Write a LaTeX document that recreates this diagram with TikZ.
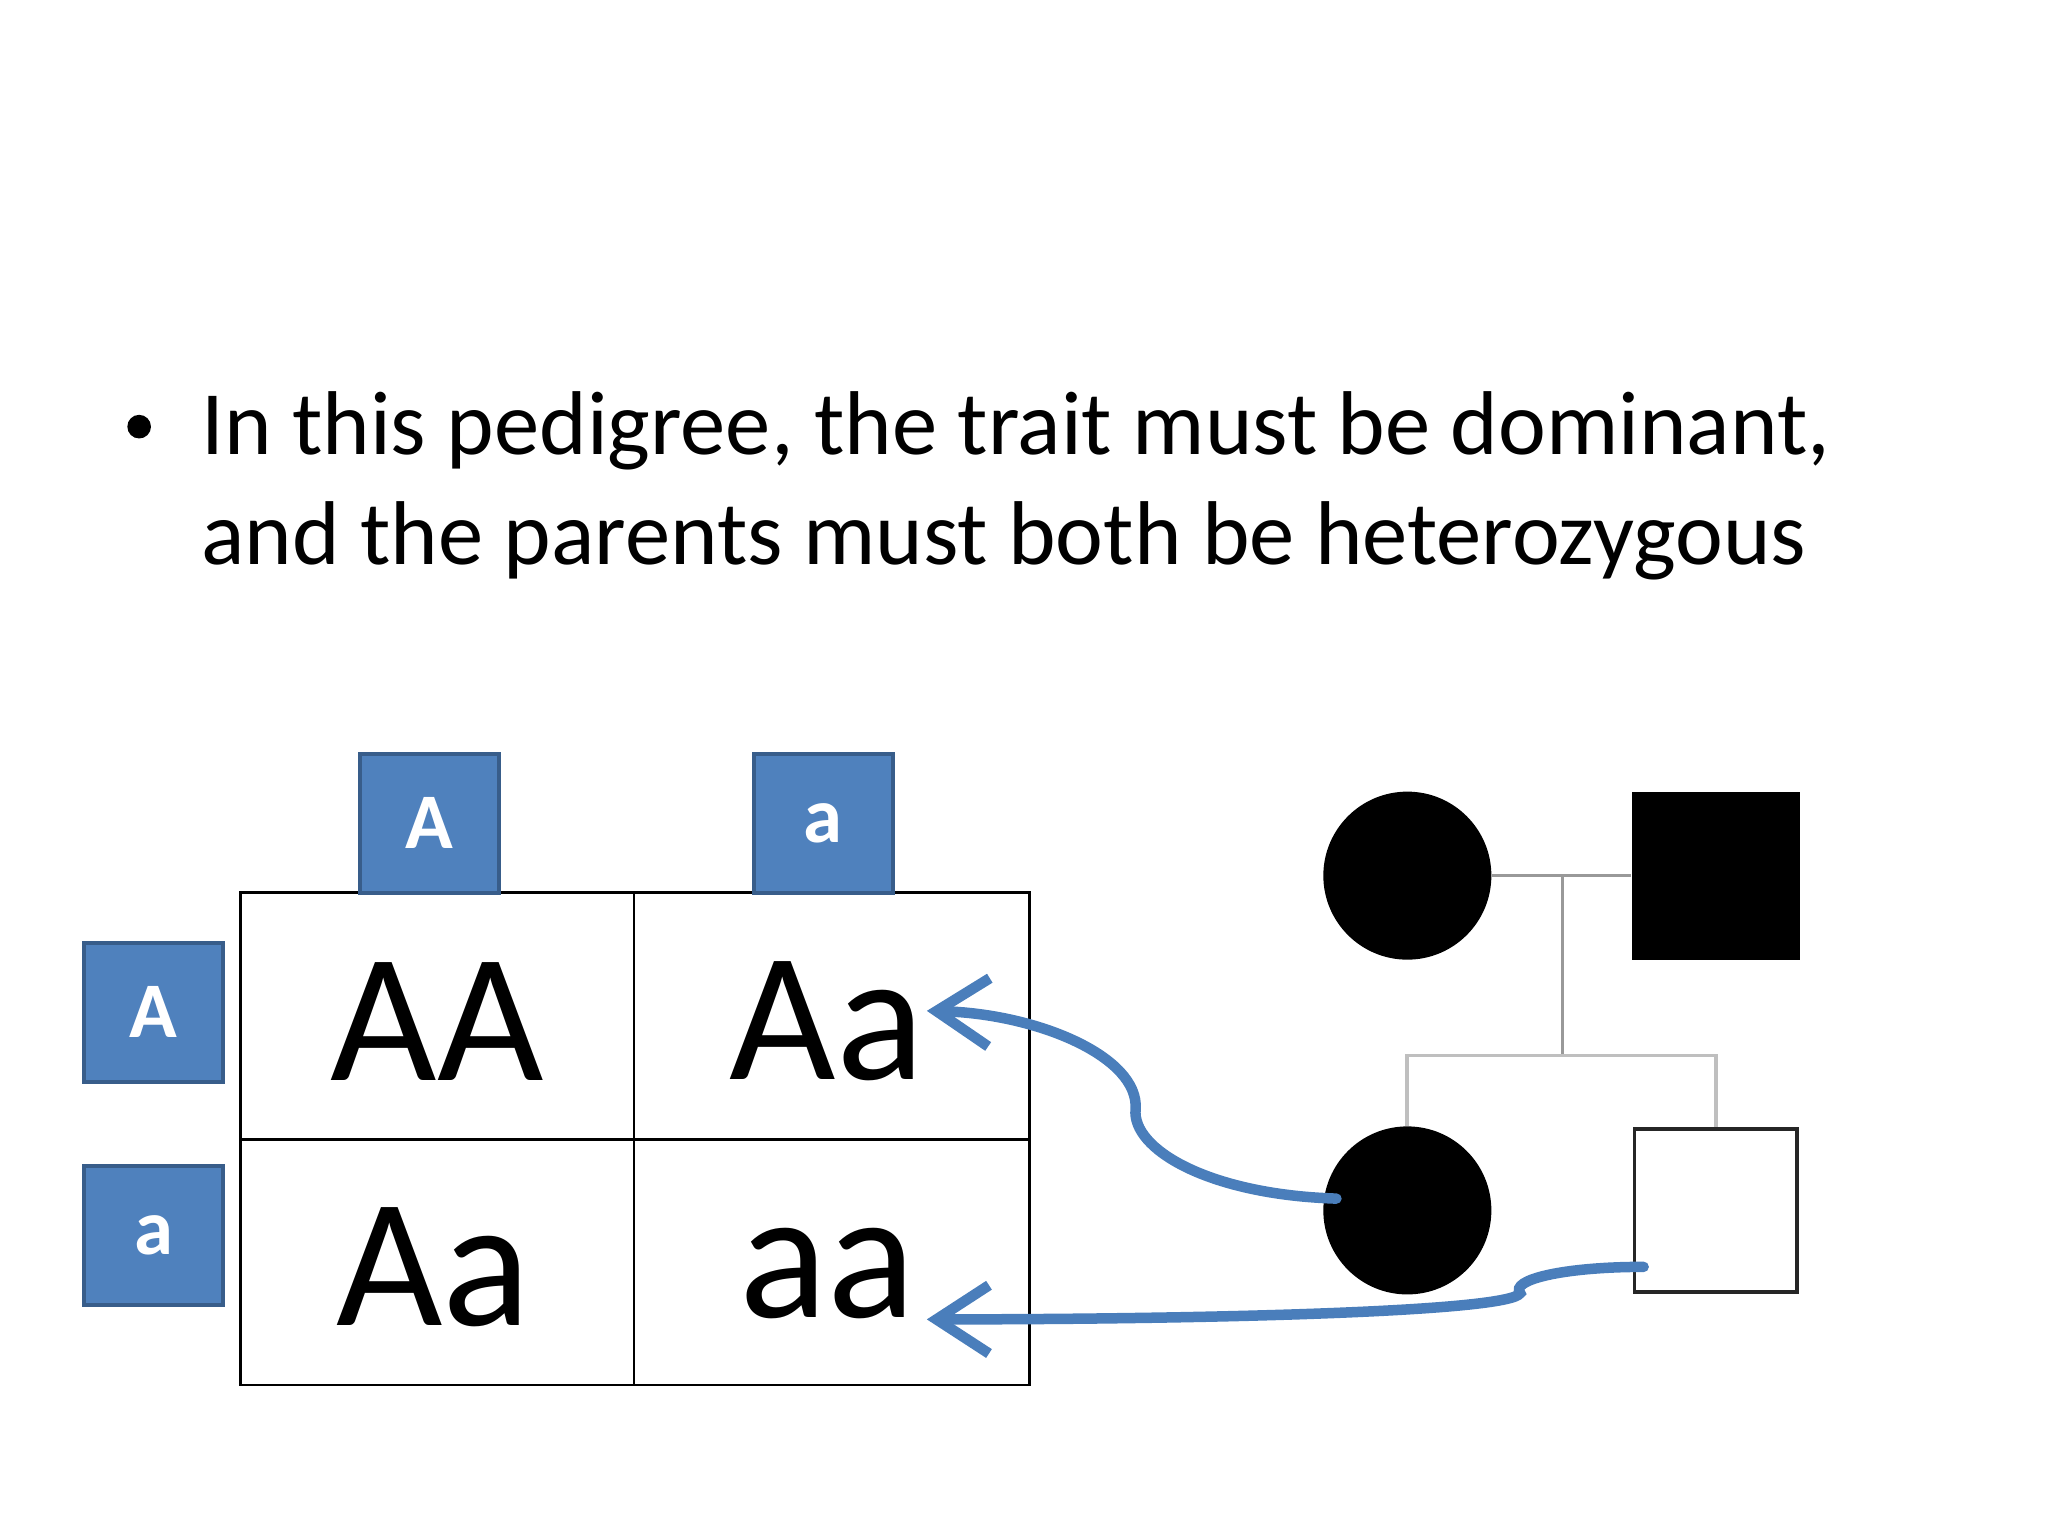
\documentclass[tikz,border=0pt]{standalone}
\usepackage{fontspec}
\setmainfont{Carlito}
\usetikzlibrary{arrows.meta}
\definecolor{boxfill}{HTML}{4F81BD}
\definecolor{boxline}{HTML}{385D8A}
\definecolor{arrowc}{HTML}{4A7EBB}
\tikzset{
 hdr/.style={draw=boxline,line width=1.5pt,fill=boxfill,minimum width=53pt,minimum height=53pt,inner sep=0pt,text=white,font=\bfseries\fontsize{30}{32}\selectfont},
 cell/.style={font=\fontsize{70}{72}\selectfont,inner sep=0pt},
 arr/.style={draw=arrowc,line width=4pt,line cap=round,-{Straight Barb[length=20pt,width=26pt,line width=4pt]}},
 peda/.style={draw=gray!80,line width=1pt},
 pedb/.style={draw=gray!50,line width=1.5pt}
}
\begin{document}
\begin{tikzpicture}[x=0.5pt,y=-0.5pt]
\useasboundingbox (0,0) rectangle (1560,1170);
\node[circle,fill=black,inner sep=0pt,minimum size=9pt] (bul) at (106,325) {};
\node[anchor=west,align=left,font=\fontsize{34.5}{42}\selectfont,inner sep=0pt] (txt) at (153,370) {In this pedigree, the trait must be dominant,\\and the parents must both be heterozygous};
% table
\draw[line width=1pt] (183,680) rectangle (784,1055);
\draw[line width=1pt] (483,680) -- (483,1055);
\draw[line width=1pt] (183,868) -- (784,868);
\node[hdr] (hA) at (327,627) {A};
\node[hdr] (ha) at (627,627) {a};
\node[hdr] (vA) at (117,771) {A};
\node[hdr] (va) at (117,941) {a};
\node[cell] (c11) at (333,778) {AA};
\node[cell] (c12) at (630,778) {Aa};
\node[cell] (c21) at (330,965) {Aa};
\node[cell] (c22) at (630,970) {aa};
% pedigree
\node[circle,fill=black,minimum size=64pt,inner sep=0pt] (mom) at (1072,667) {};
\node[fill=black,minimum size=64pt,inner sep=0pt] (dad) at (1307,667) {};
\node[circle,fill=black,minimum size=64pt,inner sep=0pt] (dau) at (1072,922) {};
\node[draw=black!85,line width=1.5pt,fill=white,minimum size=62pt,inner sep=0pt] (son) at (1307,922) {};
\draw[peda] (mom.east) -- (dad.west);
\coordinate (mid) at (1190,667);
\coordinate (sib) at (1190,804);
\draw[peda] (mid) -- (sib);
\draw[pedb] (dau.north) -- (1072,804) -- (1307,804) -- (son.north);
% arrows
\coordinate (s1) at (1018,913);
\coordinate (s2) at (1252,965);
\draw[arr] (s1) .. controls (920,910) and (862,875) .. (865,845) .. controls (868,805) and (790,772) .. (706,770);
\draw[arr] (s2) .. controls (1190,965) and (1150,975) .. (1158,985) .. controls (1150,1000) and (900,1005) .. (706,1005);
\end{tikzpicture}
\end{document}
